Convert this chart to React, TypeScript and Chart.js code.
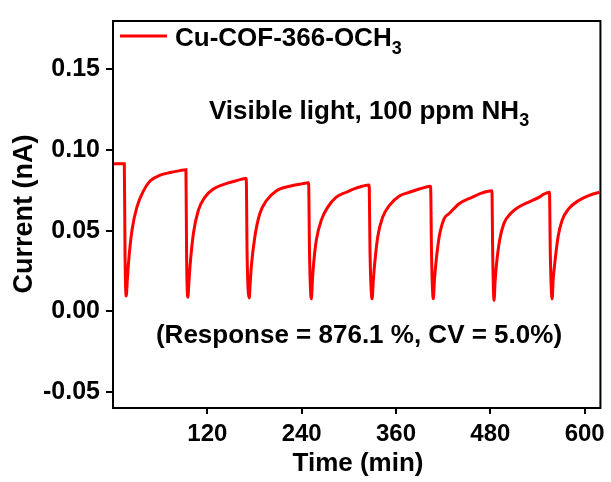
import React, { useEffect, useRef } from "react";
import { Chart, registerables } from "chart.js";

Chart.register(...registerables);

const timeMin: number[] = [
  0, 14.4, 15.3, 16.8, 18.3, 19.9, 24.2, 30.5, 38.9, 47.4, 60, 72.7, 85, 92.8,
  93.6, 95.2, 96.6, 98, 102.3, 108.6, 117, 127.6, 144.6, 157, 169.5,
  170.6, 173.3, 174.6, 176, 180.5, 186.8, 195.3, 208, 224.8, 240, 248.8,
  250, 252.3, 253.8, 255.3, 258.7, 265, 273.4, 284, 296.7, 309.4, 325.8,
  327, 329.6, 331, 332.6, 336.8, 343.1, 351.6, 364.3, 377, 389.6, 404,
  405.2, 407.4, 409, 410.8, 415, 421.3, 427.6, 440.3, 457.2, 469.8, 482,
  483, 484.7, 486, 487.6, 491.9, 497.3, 505.8, 516.3, 529, 541.7, 548, 555.2,
  556.3, 558.6, 560, 562, 566.2, 571.3, 579.7, 592.4, 605, 618.6,
];

const currentNA: number[] = [
  0.0915, 0.0915, 0.035, 0.0095, 0.02, 0.031, 0.0504, 0.0647, 0.0748, 0.0809, 0.0844, 0.086, 0.0872, 0.0878,
  0.035, 0.0087, 0.018, 0.028, 0.0484, 0.0626, 0.0708, 0.0758, 0.0793, 0.081, 0.0823,
  0.035, 0.0082, 0.018, 0.028, 0.0464, 0.0606, 0.0687, 0.0748, 0.0775, 0.079, 0.0797,
  0.035, 0.0077, 0.02, 0.03, 0.0443, 0.0565, 0.0647, 0.0708, 0.0738, 0.0764, 0.0783,
  0.035, 0.0077, 0.018, 0.028, 0.0464, 0.0585, 0.0656, 0.0714, 0.0738, 0.0758, 0.0775,
  0.035, 0.0077, 0.02, 0.03, 0.0464, 0.0575, 0.0606, 0.0667, 0.0708, 0.0734, 0.0748,
  0.035, 0.0067, 0.018, 0.028, 0.0443, 0.0545, 0.0606, 0.0647, 0.0677, 0.0706, 0.0726, 0.0738,
  0.035, 0.0077, 0.02, 0.03, 0.0464, 0.0565, 0.0636, 0.0687, 0.0717, 0.0738,
];

const xTicks: number[] = [120, 240, 360, 480, 600];
const yTicks: number[] = [-0.05, 0, 0.05, 0.1, 0.15];

const seriesName = "Cu-COF-366-OCH";
const seriesSub = "3";
const noteMain = "Visible light, 100 ppm NH";
const noteSub = "3";
const responseText = "(Response = 876.1 %, CV = 5.0%)";
const xTitle = "Time (min)";
const yTitle = "Current (nA)";

const FONT = "'Liberation Sans', Arial, sans-serif";

const annotations = {
  id: "annotations",
  afterDraw(chart: any) {
    const ctx = chart.ctx as CanvasRenderingContext2D;
    const a = chart.chartArea;
    ctx.save();
    // box
    ctx.strokeStyle = "#000";
    ctx.lineWidth = 2;
    ctx.strokeRect(a.left, a.top, a.right - a.left, a.bottom - a.top);

    ctx.fillStyle = "#000";
    ctx.textBaseline = "alphabetic";
    // legend
    ctx.strokeStyle = "#ff0000";
    ctx.lineWidth = 2.8;
    ctx.beginPath();
    ctx.moveTo(120, 36);
    ctx.lineTo(167, 36);
    ctx.stroke();
    ctx.font = `bold 26px ${FONT}`;
    ctx.textAlign = "left";
    ctx.fillText(seriesName, 175, 46);
    let w = ctx.measureText(seriesName).width;
    ctx.font = `bold 18px ${FONT}`;
    ctx.fillText(seriesSub, 175 + w, 54);

    // note
    ctx.font = `bold 26px ${FONT}`;
    ctx.fillText(noteMain, 209, 119);
    w = ctx.measureText(noteMain).width;
    ctx.font = `bold 18px ${FONT}`;
    ctx.fillText(noteSub, 209 + w, 126);

    // response
    ctx.font = `bold 26px ${FONT}`;
    ctx.textAlign = "center";
    ctx.fillText(responseText, 359, 343);

    // x title
    ctx.fillText(xTitle, 358, 471);

    // y title
    ctx.font = `bold 27px ${FONT}`;
    ctx.translate(32, 214);
    ctx.rotate(-Math.PI / 2);
    ctx.fillText(yTitle, 0, 0);
    ctx.restore();
  },
};

export default function App() {
  const ref = useRef<HTMLCanvasElement>(null);
  useEffect(() => {
    if (!ref.current) return;
    const points = timeMin.map((t, i) => ({ x: t, y: currentNA[i] }));
    const chart = new Chart(ref.current, {
      type: "line",
      data: {
        datasets: [
          {
            label: seriesName + seriesSub,
            data: points,
            borderColor: "#ff0000",
            borderWidth: 3,
            pointRadius: 0,
            cubicInterpolationMode: "monotone",
            fill: false,
          },
        ],
      },
      options: {
        animation: false,
        responsive: false,
        layout: { padding: { top: 14, right: 9, left: 0, bottom: 0 } },
        plugins: { legend: { display: false }, tooltip: { enabled: false } },
        scales: {
          x: {
            type: "linear",
            min: 0,
            max: 620,
            afterBuildTicks: (s: any) => {
              s.ticks = xTicks.map((v) => ({ value: v }));
            },
            afterFit: (s: any) => {
              s.height = 74;
            },
            ticks: {
              color: "#000",
              font: { family: FONT, size: 24, weight: "bold" },
              padding: 6,
              maxRotation: 0,
              callback: (v: any) => String(v),
            },
            grid: {
              drawOnChartArea: false,
              drawTicks: true,
              tickLength: 6,
              color: "#000",
              lineWidth: 2,
            },
            border: { display: true, color: "#000", width: 2 },
          },
          y: {
            type: "linear",
            min: -0.06,
            max: 0.18,
            afterBuildTicks: (s: any) => {
              s.ticks = yTicks.map((v) => ({ value: v }));
            },
            afterFit: (s: any) => {
              s.width = 113;
            },
            ticks: {
              color: "#000",
              font: { family: FONT, size: 25, weight: "bold" },
              padding: 6,
              callback: (v: any) => Number(v).toFixed(2),
            },
            grid: {
              drawOnChartArea: false,
              drawTicks: true,
              tickLength: 7,
              color: "#000",
              lineWidth: 2,
            },
            border: { display: true, color: "#000", width: 2 },
          },
        },
      },
      plugins: [annotations],
    });
    return () => chart.destroy();
  }, []);
  return (
    <div style={{ position: "fixed", left: 0, top: 0, width: 611, height: 482, background: "#fff" }}>
      <canvas ref={ref} width={611} height={482} />
    </div>
  );
}
